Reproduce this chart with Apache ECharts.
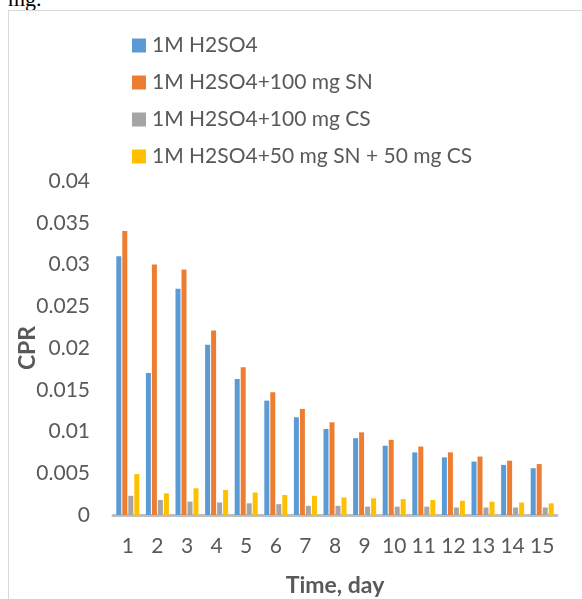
<!DOCTYPE html>
<html><head><meta charset="utf-8">
<script src="https://cdn.jsdelivr.net/npm/echarts@6/dist/echarts.min.js"></script>
<style>
html,body{margin:0;padding:0;background:#fff;width:582px;height:599px;overflow:hidden;}
#cap{position:absolute;left:8px;top:-14px;font-family:"Liberation Serif",serif;font-size:22px;color:#000;}
#frame{position:absolute;left:8px;top:10px;width:600px;height:620px;border:1px solid #D9D9D9;box-sizing:border-box;}
#chart{position:absolute;left:0;top:0;width:582px;height:599px;}
</style></head>
<body>
<div id="cap">mg.</div>
<div id="frame"></div>
<div id="chart"></div>
<script>
const categories = ['1','2','3','4','5','6','7','8','9','10','11','12','13','14','15'];
const seriesNames = ['1M H2SO4','1M H2SO4+100 mg SN','1M H2SO4+100 mg CS','1M H2SO4+50 mg SN + 50 mg CS'];
const h2so4 = [0.0310,0.0170,0.0271,0.0204,0.0163,0.0137,0.0117,0.0103,0.0092,0.0083,0.0075,0.0069,0.0064,0.0060,0.0056];
const h2so4SN = [0.0340,0.0300,0.0294,0.0221,0.0177,0.0147,0.0127,0.0111,0.0099,0.0090,0.0082,0.0075,0.0070,0.0065,0.0061];
const h2so4CS = [0.0023,0.0018,0.0016,0.0015,0.0014,0.0013,0.0011,0.0011,0.0010,0.0010,0.0010,0.0009,0.0009,0.0009,0.0009];
const h2so4Mix = [0.0049,0.0026,0.0032,0.0030,0.0027,0.0024,0.0023,0.0021,0.0020,0.0019,0.0018,0.0017,0.0016,0.0015,0.0014];
const colors = ['#5B9BD5','#ED7D31','#A5A5A5','#FFC000'];
const allData = [h2so4, h2so4SN, h2so4CS, h2so4Mix];

const chart = echarts.init(document.getElementById('chart'), null, {renderer:'canvas'});
const font = 'Lato, "Open Sans", sans-serif';
chart.setOption({
  animation:false,
  color: colors,
  textStyle:{fontFamily:font},
  legend:{
    orient:'vertical', left:127, top:30,
    itemWidth:14, itemHeight:14, itemGap:16,
    icon:'rect',
    textStyle:{fontSize:21, color:'#595959', fontFamily:font, padding:[0,0,0,1]},
    data: seriesNames
  },
  grid:{left:113, right:25, top:181, bottom:84, containLabel:false, outerBoundsMode:'none'},
  xAxis:{
    type:'category', data:categories,
    name:'Time, day', nameLocation:'middle', nameGap:59, nameMoveOverlap:false,
    nameTextStyle:{fontSize:23, fontWeight:'bold', color:'#595959', fontFamily:font},
    axisLine:{show:true, lineStyle:{color:'#BFBFBF', width:3}},
    axisTick:{show:false},
    axisLabel:{fontSize:21, color:'#595959', margin:21, fontFamily:font, interval:0, hideOverlap:false}
  },
  yAxis:{
    type:'value', min:0, max:0.04, interval:0.005,
    name:'CPR', nameLocation:'middle', nameGap:74, nameRotate:90, nameMoveOverlap:false,
    nameTextStyle:{fontSize:23, fontWeight:'bold', color:'#595959', fontFamily:font},
    splitLine:{show:false},
    axisLine:{show:false}, axisTick:{show:false},
    axisLabel:{fontSize:21, color:'#595959', margin:23, fontFamily:font,
      formatter:v=>String(+v.toFixed(3))}
  },
  series: seriesNames.map((n,i)=>({
    name:n, type:'bar', data:allData[i], barWidth:5, barGap:'20%',
    itemStyle:{color:colors[i]}
  }))
});
</script>
</body></html>
